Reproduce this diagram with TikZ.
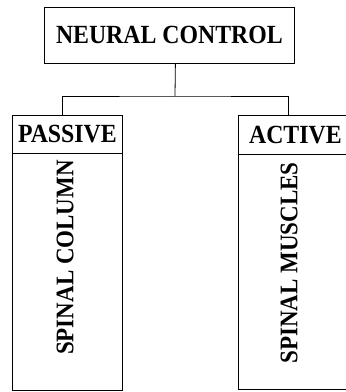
\documentclass[tikz,border=0pt]{standalone}
\usepackage{fontspec}
\setmainfont{Liberation Serif}
\newcommand{\tallbf}[1]{\scalebox{1}[1.1]{#1}}
\begin{document}
\begin{tikzpicture}[x=1pt,y=-1pt, line width=0.8pt,
  box/.style={draw, rectangle, inner sep=0pt, anchor=north west, font=\fontsize{23.8}{24}\selectfont\bfseries},
  vlbl/.style={inner sep=0pt, rotate=90, font=\fontsize{23}{24}\selectfont\bfseries}]
\useasboundingbox (0,0) rectangle (346,392);
\clip (0,0) rectangle (346,392);
\node[box, minimum width=250pt, minimum height=56pt] (top) at (44,7) {\tallbf{NEURAL CONTROL}};
\node[box, minimum width=110pt, minimum height=38pt] (lhead) at (12,115) {\tallbf{PASSIVE}};
\node[box, minimum width=110pt, minimum height=237pt] (lbody) at (12,153) {};
\node[box, minimum width=114pt, minimum height=39pt] (rhead) at (238,115) {\tallbf{ACTIVE}};
\node[box, minimum width=114pt, minimum height=235pt] (rbody) at (238,154) {};
\node[vlbl] (sc) at (65,257.5) {\tallbf{SPINAL COLUMN}};
\node[vlbl] (sm) at (289,263) {\tallbf{SPINAL MUSCLES}};
\coordinate (j) at (175,96);
\draw ([xshift=6pt]top.south) -- (j);
\draw ([xshift=-5pt]lhead.north) |- (j) -| ([xshift=-7pt]rhead.north);
\end{tikzpicture}
\end{document}
